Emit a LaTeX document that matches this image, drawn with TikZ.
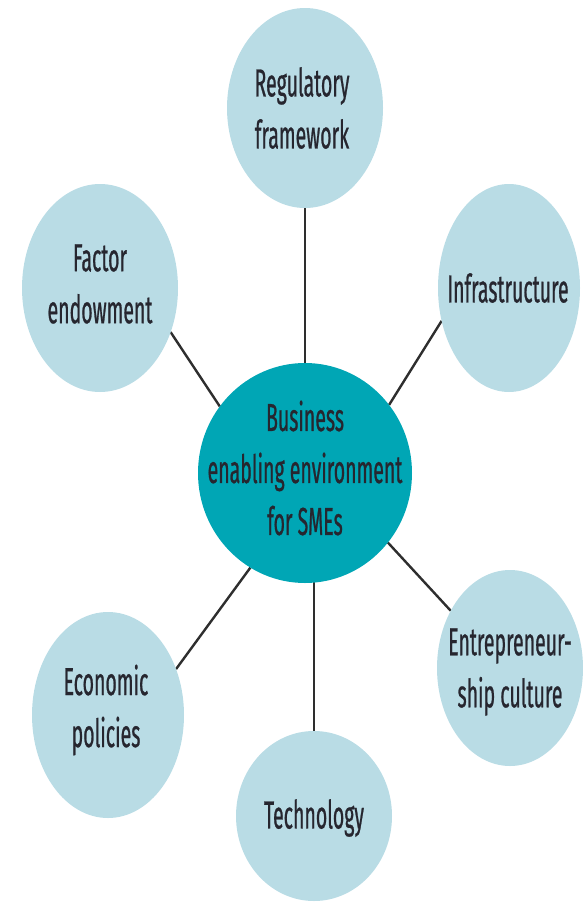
\documentclass[tikz,border=0pt]{standalone}
\usepackage{fontspec}
\newfontfamily\diagfont{Fira Sans}[FakeStretch=0.5,FakeBold=0.6]
\usetikzlibrary{shapes.geometric,backgrounds}
\definecolor{outerfill}{HTML}{B9DCE5}
\definecolor{centerfill}{HTML}{00A6B5}
\definecolor{txt}{HTML}{26262F}
\definecolor{linec}{HTML}{2E2E2E}
\begin{document}
\begin{tikzpicture}[x=1pt,y=1pt,
  blob/.style={ellipse,inner sep=0pt,outer sep=0pt,draw=none},
  outerblob/.style={blob,fill=outerfill},
  centerblob/.style={blob,fill=centerfill},
  lbl/.style={align=center,text=txt,font=\diagfont\fontsize{39}{52}\selectfont,inner sep=0pt},
  conn/.style={draw=linec,line width=2.4pt}]
\useasboundingbox (0,0) rectangle (583,-902);
\node[centerblob,minimum width=214pt,minimum height=220pt] (cen) at (305,-473) {};
\node[lbl] (cent) at (305,-468) {Business\\enabling environment\\for SMEs};
\node[outerblob,minimum width=156pt,minimum height=200pt] (reg) at (305,-108) {};
\node[lbl] (regt) at (302,-108) {Regulatory\\framework};
\node[outerblob,minimum width=156pt,minimum height=208pt] (fac) at (100,-288) {};
\node[lbl] (fact) at (100,-284) {Factor\\endowment};
\node[outerblob,minimum width=142pt,minimum height=208pt] (inf) at (509,-288) {};
\node[lbl] (inft) at (508,-288) {Infrastructure};
\node[outerblob,minimum width=152pt,minimum height=206pt] (eco) at (108,-715) {};
\node[lbl] (ecot) at (106,-710) {Economic\\policies};
\node[outerblob,minimum width=156pt,minimum height=170pt] (tec) at (314,-816) {};
\node[lbl] (tect) at (314,-818) {Technology};
\node[outerblob,minimum width=146pt,minimum height=196pt] (ent) at (510,-668) {};
\node[lbl] (entt) at (510,-672) {Entrepreneur-\\ship culture};
\begin{scope}[on background layer]
\draw[conn] (reg.center) -- (cen.center);
\draw[conn] (tec.north) -- (tec.north |- cen.center);
\draw[conn] (fac.-32) -- (cen.142);
\draw[conn] (inf.206) -- (cen.39);
\draw[conn] (eco.34) -- (cen.240);
\draw[conn] (ent.136) -- (cen.-40);
\end{scope}
\end{tikzpicture}
\end{document}
